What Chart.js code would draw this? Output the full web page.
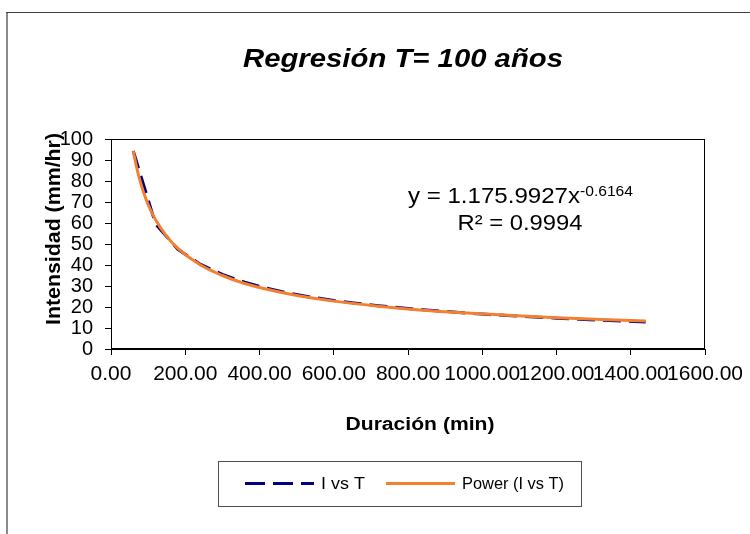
<!DOCTYPE html>
<html>
<head>
<meta charset="utf-8">
<script src="https://cdn.jsdelivr.net/npm/chart.js@4/dist/chart.umd.min.js"></script>
<style>
html,body{margin:0;padding:0;background:#fff;}
canvas{display:block;}
</style>
</head>
<body>
<canvas id="c" width="750" height="534"></canvas>
<script>
// ---- data ----
const durations = [60,120,180,240,300,360,420,480,540,600,660,720,780,840,900,960,1020,1080,1140,1200,1260,1320,1380,1440];
const intensities = [94.3,59.5,47.5,40.4,35.5,31.8,28.9,26.6,24.7,23.1,21.8,20.6,19.6,18.7,17.9,17.1,16.4,15.8,15.2,14.7,14.2,13.7,13.3,12.8];
const trendDurations = [60,70,80,90,100,110,120,150,180,240,300,360,480,600,720,840,960,1080,1200,1320,1440];
const trendIntensities = [94.2,85.7,79.0,73.4,68.8,64.9,61.5,53.6,47.9,40.1,35.0,31.2,26.2,22.8,20.4,18.5,17.1,15.9,14.9,14.0,13.3];
const xTicks = [0,200,400,600,800,1000,1200,1400,1600];
const yTicks = [0,10,20,30,40,50,60,70,80,90,100];
const seriesNames = ['I vs T','Power (I vs T)'];
const titleText = 'Regresión T= 100 años';
const xTitle = 'Duración (min)';
const yTitle = 'Intensidad (mm/hr)';
const eqMain = 'y = 1.175.9927x';
const eqExp = '-0.6164';
const r2Text = 'R² = 0.9994';

const FONT = '"Liberation Sans", Arial, Helvetica, sans-serif';
const NAVY = '#000080';
const ORANGE = '#F4802F';

function stretchText(ctx, text, x, y, font, width, align, baseline) {
  ctx.save();
  ctx.font = font;
  const w = ctx.measureText(text).width;
  const s = width / w;
  ctx.translate(x, y);
  ctx.scale(s, 1);
  ctx.textAlign = align || 'left';
  ctx.textBaseline = baseline || 'alphabetic';
  ctx.fillStyle = '#000';
  ctx.fillText(text, 0, 0);
  ctx.restore();
}

const decor = {
  id: 'decor',
  beforeDraw(chart) {
    const ctx = chart.ctx;
    ctx.save();
    ctx.fillStyle = '#fff';
    ctx.fillRect(0, 0, chart.width, chart.height);
    ctx.strokeStyle = '#8a8a8a';
    ctx.lineWidth = 2;
    ctx.beginPath(); ctx.moveTo(7, 12); ctx.lineTo(7, 534); ctx.stroke();
    ctx.strokeStyle = '#404040';
    ctx.lineWidth = 1;
    ctx.beginPath(); ctx.moveTo(6, 12.5); ctx.lineTo(750, 12.5); ctx.stroke();
    ctx.restore();
  },
  beforeDatasetsDraw(chart) {
    const ctx = chart.ctx, a = chart.chartArea;
    ctx.save();
    ctx.strokeStyle = '#000';
    ctx.lineWidth = 1;
    ctx.strokeRect(Math.round(a.left) + 0.5, Math.round(a.top) + 0.5, Math.round(a.right - a.left) - 1, Math.round(a.bottom - a.top) - 1);
    ctx.restore();
  },
  afterDraw(chart) {
    const ctx = chart.ctx;
    stretchText(ctx, titleText, 403, 67, 'italic bold 25px ' + FONT, 320, 'center');
    stretchText(ctx, eqMain, 408, 203, '22px ' + FONT, 172, 'left');
    stretchText(ctx, eqExp, 580, 196, '14px ' + FONT, 53, 'left');
    stretchText(ctx, r2Text, 520, 230, '22px ' + FONT, 125, 'center');
    stretchText(ctx, xTitle, 420, 430, 'bold 18px ' + FONT, 149, 'center');
    ctx.save();
    ctx.translate(54, 229);
    ctx.rotate(-Math.PI / 2);
    stretchText(ctx, yTitle, 0, 0, 'bold 20px ' + FONT, 192, 'center', 'middle');
    ctx.restore();
    ctx.save();
    ctx.strokeStyle = '#505050';
    ctx.lineWidth = 1;
    ctx.strokeRect(218.5, 461.5, 363, 45);
    ctx.lineWidth = 3;
    ctx.strokeStyle = NAVY;
    ctx.setLineDash([20, 8]);
    ctx.beginPath(); ctx.moveTo(245, 483.5); ctx.lineTo(314, 483.5); ctx.stroke();
    ctx.setLineDash([]);
    ctx.strokeStyle = ORANGE;
    ctx.beginPath(); ctx.moveTo(386, 483.5); ctx.lineTo(455, 483.5); ctx.stroke();
    ctx.restore();
    stretchText(ctx, seriesNames[0], 321, 489, '17px ' + FONT, 44, 'left');
    stretchText(ctx, seriesNames[1], 462, 489, '17px ' + FONT, 102, 'left');
  }
};

new Chart(document.getElementById('c'), {
  type: 'line',
  data: {
    datasets: [
      {
        label: seriesNames[0],
        data: durations.map((d, i) => ({x: d, y: intensities[i]})),
        borderColor: NAVY,
        borderWidth: 3,
        borderDash: [18, 8],
        pointRadius: 0,
        tension: 0,
        fill: false,
        order: 1
      },
      {
        label: seriesNames[1],
        data: trendDurations.map((d, i) => ({x: d, y: trendIntensities[i]})),
        borderColor: ORANGE,
        borderWidth: 3,
        pointRadius: 0,
        cubicInterpolationMode: 'monotone',
        fill: false,
        order: 0
      }
    ]
  },
  options: {
    responsive: false,
    animation: false,
    devicePixelRatio: 1,
    layout: {padding: {left: 0, right: 42, top: 139, bottom: 0}},
    plugins: {legend: {display: false}, tooltip: {enabled: false}, title: {display: false}},
    scales: {
      x: {
        type: 'linear', position: 'bottom', min: 0, max: 1600,
        afterBuildTicks: s => { s.ticks = xTicks.map(v => ({value: v})); },
        afterFit: s => { s.height = 185; },
        ticks: {
          autoSkip: false, maxRotation: 0, minRotation: 0, padding: 7,
          color: '#000', font: {family: FONT, size: 21},
          callback: v => Number(v).toFixed(2)
        },
        grid: {drawOnChartArea: false, tickLength: 6, color: '#000', lineWidth: 1},
        border: {color: '#000', width: 1}
      },
      y: {
        type: 'linear', position: 'left', min: 0, max: 100,
        afterBuildTicks: s => { s.ticks = yTicks.map(v => ({value: v})); },
        afterFit: s => { s.width = 111; },
        ticks: {
          autoSkip: false, padding: 12,
          color: '#000', font: {family: FONT, size: 20},
          callback: v => String(v)
        },
        grid: {drawOnChartArea: false, tickLength: 6, color: '#000', lineWidth: 1},
        border: {color: '#000', width: 1}
      }
    }
  },
  plugins: [decor]
});
</script>
</body>
</html>
